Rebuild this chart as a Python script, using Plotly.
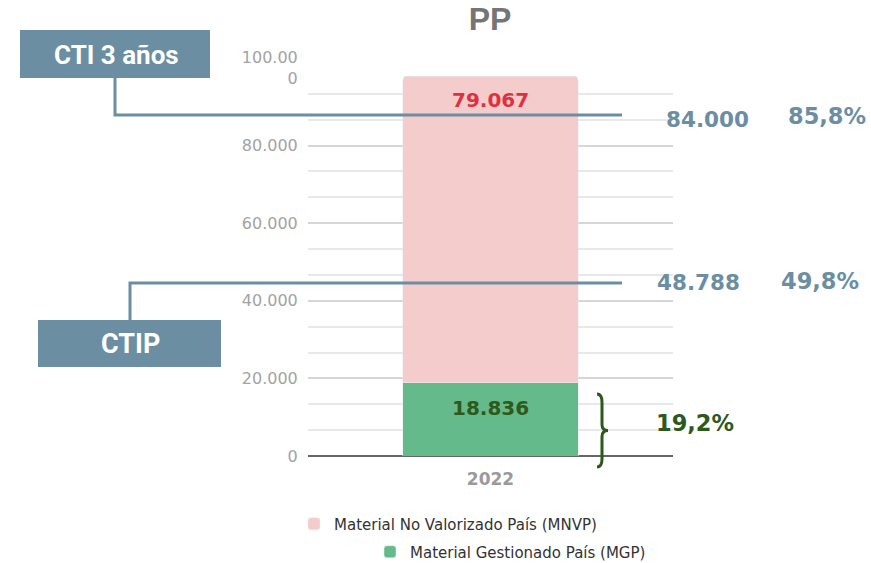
import plotly.graph_objects as go

# ---- data ----
categories = ["2022"]
mgp_values = [18836]      # Material Gestionado País
mnvp_values = [79067]     # Material No Valorizado País
cti_value = 84000
ctip_value = 48788
y_tick_vals = [0, 20000, 40000, 60000, 80000, 100000]
y_tick_text = ["0", "20.000", "40.000", "60.000", "80.000", "100.00<br>0"]

total = mgp_values[0] + mnvp_values[0]

def pct(v):
    return f"{v / total * 100:.1f}%".replace(".", ",")

def num(v):
    return f"{v:,.0f}".replace(",", ".")

W, H = 871, 563
L, R, T, B = 308, 673, 68, 456   # plot area in window pixels

def xp(px):
    return (px - L) / (R - L)

def yp(py):
    return (B - py) / (B - T)

STEEL = "#6b8ea3"
DKGREEN = "#2d5a1b"

fig = go.Figure()
fig.add_trace(go.Bar(
    x=categories, y=mgp_values, name="Material Gestionado País (MGP)",
    marker=dict(color="#64ba8a"), legend="legend2",
    hoverinfo="skip",
))
fig.add_trace(go.Bar(
    x=categories, y=mnvp_values, name="Material No Valorizado País (MNVP)",
    marker=dict(color="#f4cccc"), legend="legend",
    hoverinfo="skip",
))

shapes = []
annotations = []

# bar value labels, placed just below each segment top
annotations.append(dict(xref="x", yref="y", x=0, y=mgp_values[0],
                        yshift=-25, text=num(mgp_values[0]), showarrow=False,
                        xanchor="center", yanchor="middle",
                        font=dict(family="DejaVu Sans", size=20, color=DKGREEN, weight="bold")))
annotations.append(dict(xref="x", yref="y", x=0, y=mgp_values[0] + mnvp_values[0],
                        yshift=-24, text=num(mnvp_values[0]), showarrow=False,
                        xanchor="center", yanchor="middle",
                        font=dict(family="DejaVu Sans", size=20, color="#e0303f", weight="bold")))

# CTI 3 años box + connector
shapes.append(dict(type="rect", xref="paper", yref="paper",
                   x0=xp(20), x1=xp(210), y0=yp(30), y1=yp(78),
                   fillcolor=STEEL, line=dict(width=0), layer="above"))
shapes.append(dict(type="path", xref="paper", yref="paper",
                   path=f"M {xp(115)} {yp(78)} L {xp(115)} {yp(115)} L {xp(622)} {yp(115)}",
                   line=dict(color=STEEL, width=3), layer="above"))
annotations.append(dict(xref="paper", yref="paper", x=xp(116), y=yp(55),
                        xanchor="center", yanchor="middle",
                        text="CTI 3 años", showarrow=False,
                        font=dict(family="Roboto", size=26, color="white", weight="bold")))

# CTIP box + connector
shapes.append(dict(type="rect", xref="paper", yref="paper",
                   x0=xp(38), x1=xp(221), y0=yp(320), y1=yp(367),
                   fillcolor=STEEL, line=dict(width=0), layer="above"))
shapes.append(dict(type="path", xref="paper", yref="paper",
                   path=f"M {xp(130)} {yp(320)} L {xp(130)} {yp(283)} L {xp(622)} {yp(283)}",
                   line=dict(color=STEEL, width=3), layer="above"))
annotations.append(dict(xref="paper", yref="paper", x=xp(130), y=yp(344),
                        xanchor="center", yanchor="middle",
                        text="CTIP", showarrow=False,
                        font=dict(family="Roboto", size=27, color="white", weight="bold")))

# value / percentage labels
num_font = dict(family="DejaVu Sans", size=21.5, color=STEEL, weight="bold")
pct_font = dict(family="DejaVu Sans", size=22.5, color=STEEL, weight="bold")
for x, y, t, f in [
    (707, 120, num(cti_value), num_font),
    (827, 116, pct(cti_value), pct_font),
    (698, 282, num(ctip_value), num_font),
    (820, 281, pct(ctip_value), pct_font),
]:
    annotations.append(dict(xref="paper", yref="paper", x=xp(x), y=yp(y),
                            xanchor="center", yanchor="middle",
                            text=t, showarrow=False, font=f))
annotations.append(dict(xref="paper", yref="paper", x=xp(695), y=yp(423),
                        xanchor="center", yanchor="middle",
                        text=pct(mgp_values[0]), showarrow=False,
                        font=dict(family="DejaVu Sans", size=22.5, color=DKGREEN, weight="bold")))

# curly brace
bx0, bx1, by0, by1 = 597, 608, 394, 467
bm = (by0 + by1) / 2
brace = (f"M {xp(bx0)} {yp(by0)} "
         f"Q {xp(bx0+5)} {yp(by0)} {xp(bx0+5)} {yp(by0+8)} "
         f"L {xp(bx0+5)} {yp(bm-6)} "
         f"Q {xp(bx0+5)} {yp(bm)} {xp(bx1)} {yp(bm)} "
         f"Q {xp(bx0+5)} {yp(bm)} {xp(bx0+5)} {yp(bm+6)} "
         f"L {xp(bx0+5)} {yp(by1-8)} "
         f"Q {xp(bx0+5)} {yp(by1)} {xp(bx0)} {yp(by1)}")
shapes.append(dict(type="path", xref="paper", yref="paper", path=brace,
                   line=dict(color=DKGREEN, width=3), layer="above"))

fig.update_layout(
    width=W, height=H,
    margin=dict(l=L, r=W - R, t=T, b=H - B, autoexpand=False),
    paper_bgcolor="white", plot_bgcolor="white",
    barmode="stack", bargap=0.52, barcornerradius=4,
    title=dict(text="<b>PP</b>", xref="paper", x=xp(490), xanchor="center",
               yref="container", y=1 - 19 / H, yanchor="middle",
               font=dict(family="Liberation Sans", size=32, color="#757575")),
    xaxis=dict(type="category", showgrid=False, showline=False,
               ticks="outside", ticklen=8, tickcolor="rgba(0,0,0,0)",
               tickfont=dict(family="DejaVu Sans", size=17, color="#9a9a9a", weight="bold")),
    yaxis=dict(range=[0, 100000], tickvals=y_tick_vals, ticktext=y_tick_text,
               showgrid=True, gridcolor="#d6d6d6", gridwidth=1.5,
               minor=dict(dtick=20000 / 3, showgrid=True, gridcolor="#e8e8e8", gridwidth=1.5),
               zeroline=True, zerolinecolor="#666666", zerolinewidth=2,
               ticks="outside", ticklen=6, tickcolor="rgba(0,0,0,0)",
               tickfont=dict(family="DejaVu Sans", size=16, color="#a3a3a3")),
    legend=dict(x=xp(294), y=yp(524), xanchor="left", yanchor="middle",
                font=dict(family="DejaVu Sans", size=15, color="#333333"),
                bgcolor="rgba(0,0,0,0)", itemclick=False, itemdoubleclick=False),
    legend2=dict(x=xp(370), y=yp(552), xanchor="left", yanchor="middle",
                 font=dict(family="DejaVu Sans", size=15, color="#333333"),
                 bgcolor="rgba(0,0,0,0)", itemclick=False, itemdoubleclick=False),
    shapes=shapes, annotations=annotations,
    showlegend=True,
)

# remove the default page margin so the figure sits at the window's top-left corner
fig.write_html("out.html",
               config={"displayModeBar": False},
               post_script="document.body.style.margin='0';document.body.style.overflow='hidden';")
